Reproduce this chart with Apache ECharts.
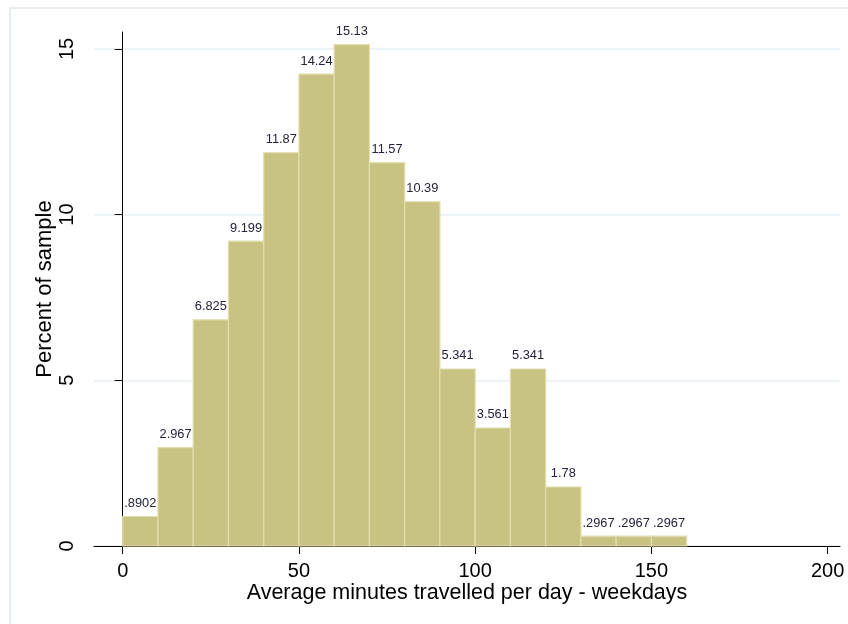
<!DOCTYPE html>
<html>
<head>
<meta charset="utf-8">
<script src="https://cdn.jsdelivr.net/npm/echarts@6/dist/echarts.min.js"></script>
<style>
  html, body { margin: 0; padding: 0; background: #fff; }
  #hist { width: 848px; height: 624px; }
</style>
</head>
<body>
<div id="hist"></div>
<script>
// bin edges (minutes) and percent of sample per bin
const binStart = [0, 10, 20, 30, 40, 50, 60, 70, 80, 90, 100, 110, 120, 130, 140, 150];
const binWidth = 10;
const percents = [0.8902, 2.967, 6.825, 9.199, 11.87, 14.24, 15.13, 11.57, 10.39, 5.341, 3.561, 5.341, 1.78, 0.2967, 0.2967, 0.2967];
const xTicks = [0, 50, 100, 150, 200];
const yTicks = [0, 5, 10, 15];

let histChart = echarts.init(document.getElementById("hist"));

let binData = [];
binStart.forEach((s, i) => {
  binData.push([s, s + binWidth, percents[i]]);
});

// stata style labels: .8902 instead of 0.8902
function fmt(v) {
  return String(v).replace(/^0\./, ".");
}

let option = {
  animation: false,
  textStyle: { fontFamily: "Liberation Sans, Arial, sans-serif" },
  graphic: [
    {
      type: "rect",
      shape: { x: 10, y: 8, width: 850, height: 630 },
      style: { fill: "none", stroke: "#e6edf1", lineWidth: 2 },
      silent: true,
      z: -1,
    },
  ],
  grid: { left: 94, right: 8, top: 32, bottom: 78 },
  xAxis: {
    type: "value",
    min: -8.14,
    max: 203.5,
    name: "Average minutes travelled per day - weekdays",
    nameLocation: "middle",
    nameGap: 36,
    nameMoveOverlap: false,
    nameTextStyle: { fontSize: 21.5, color: "#000" },
    axisLine: { show: true, onZero: false, lineStyle: { color: "#000", width: 1 } },
    axisTick: { show: true, length: 8, customValues: xTicks, lineStyle: { color: "#000" } },
    axisLabel: { customValues: xTicks, fontSize: 20, color: "#000", margin: 15 },
    splitLine: { show: false },
  },
  yAxis: {
    type: "value",
    min: 0,
    max: 15.51,
    name: "Percent of sample",
    nameLocation: "middle",
    nameGap: 38,
    nameMoveOverlap: false,
    nameTextStyle: { fontSize: 22, color: "#000" },
    axisLine: { show: true, lineStyle: { color: "#000", width: 1 } },
    axisTick: { show: true, length: 8, customValues: yTicks, lineStyle: { color: "#000" } },
    axisLabel: { customValues: yTicks, fontSize: 20, color: "#000", rotate: 90, margin: 17 },
    splitLine: { show: true, lineStyle: { color: "#e6eef2", width: 1.5 } },
  },
  series: [
    {
      type: "custom",
      data: binData,
      encode: { x: [0, 1], y: 2 },
      renderItem: function (params, api) {
        let p0 = api.coord([api.value(0), api.value(2)]);
        let p1 = api.coord([api.value(1), 0]);
        return {
          type: "rect",
          shape: { x: p0[0], y: p0[1], width: p1[0] - p0[0], height: p1[1] - p0[1] },
          style: { fill: "#c9c383", stroke: "#e2deae", lineWidth: 1.2 },
          textContent: {
            style: {
              text: fmt(api.value(2)),
              fontSize: 12.8,
              fill: "#23233a",
              fontFamily: "Liberation Sans, Arial, sans-serif",
            },
          },
          textConfig: { position: "top", distance: 6 },
        };
      },
    },
  ],
};
histChart.setOption(option, true);
</script>
</body>
</html>
